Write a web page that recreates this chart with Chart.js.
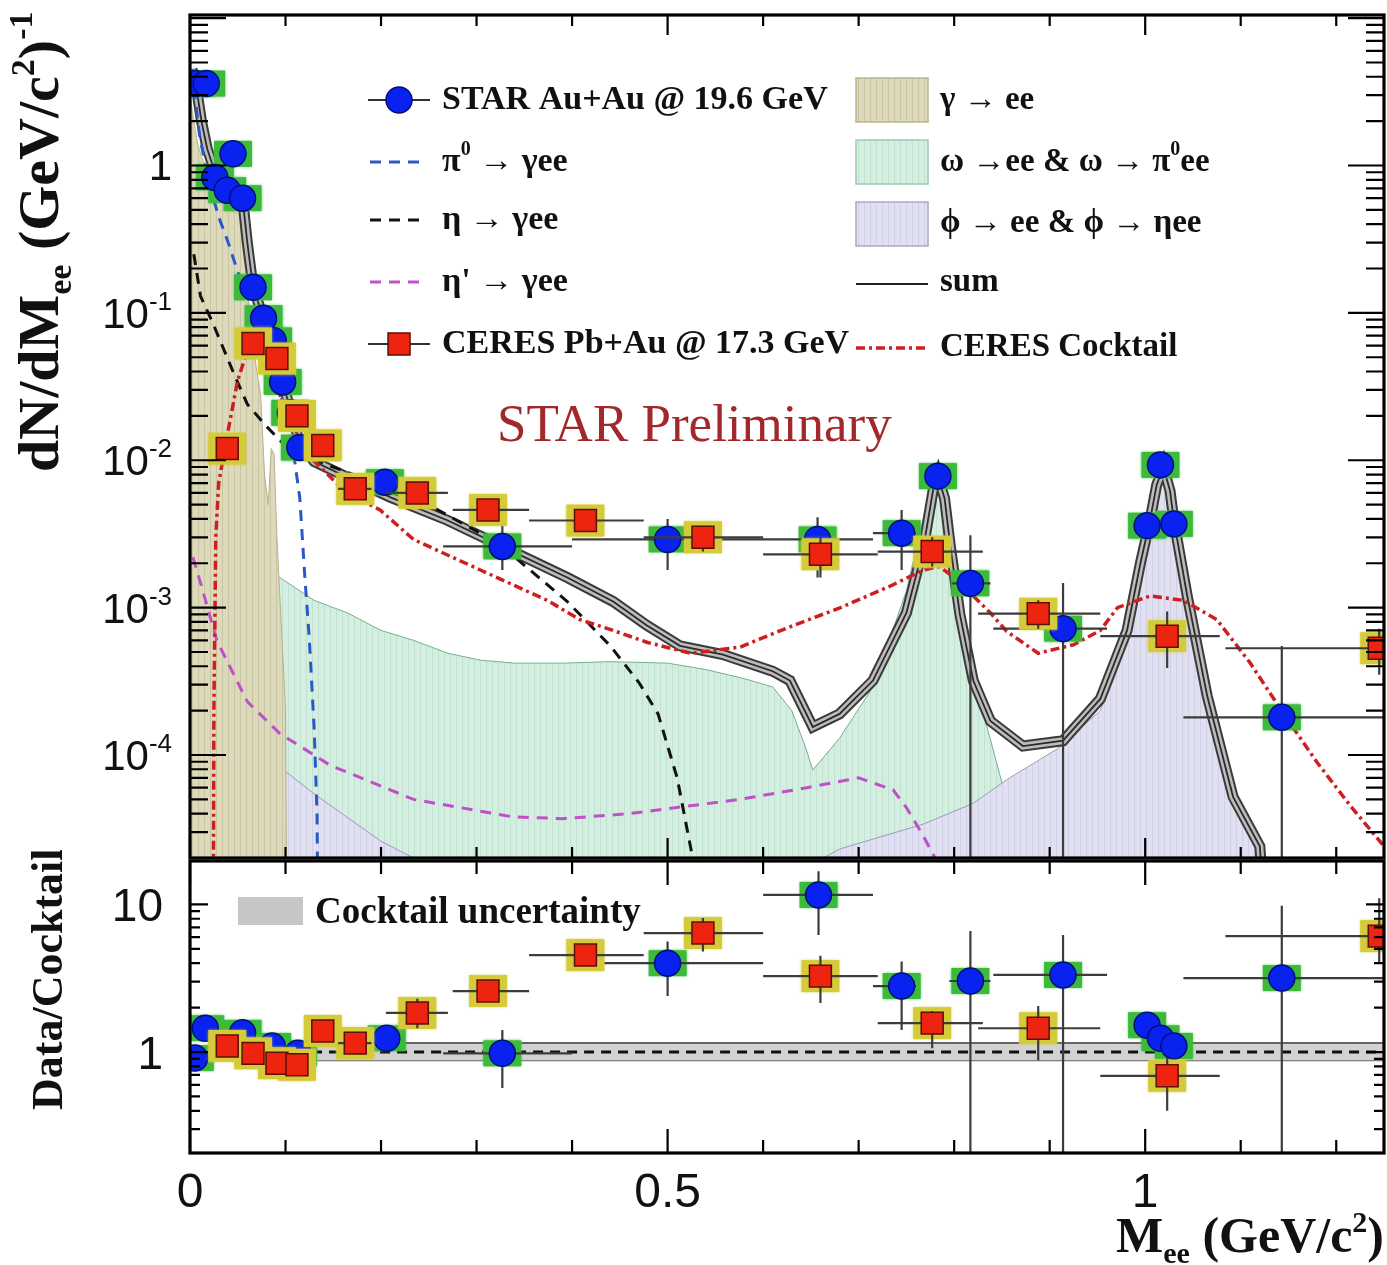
<!DOCTYPE html>
<html>
<head>
<meta charset="utf-8">
<title>Dielectron invariant mass spectrum</title>
<script src="https://cdn.jsdelivr.net/npm/chart.js@4.4.1/dist/chart.umd.min.js"></script>
<style>
  html, body { margin: 0; padding: 0; background: #fff; }
  #page { position: relative; width: 1387px; height: 1265px; overflow: hidden; background: #fff; }
  #page canvas { position: absolute; left: 0; }
  #spectrum { top: 0; }
  #ratio { top: 850px; }
</style>
</head>
<body>
<div id="page">
  <canvas id="spectrum" width="1387" height="870"></canvas>
  <canvas id="ratio" width="1387" height="415"></canvas>
</div>
<script>
/* ===== STAR Au+Au @ 19.6 GeV : dN/dMee ===== */
const starMass   = [0.006, 0.017, 0.026, 0.039, 0.045, 0.055, 0.066, 0.077, 0.087, 0.097, 0.105, 0.115, 0.204, 0.327, 0.500, 0.657, 0.745, 0.783, 0.817, 0.914, 1.002, 1.016, 1.030, 1.143];
const starYield  = [3.6, 3.6, 0.83, 0.68, 1.2, 0.60, 0.149, 0.092, 0.065, 0.034, 0.021, 0.0122, 0.0071, 0.0026, 0.0029, 0.0029, 0.0032, 0.0078, 0.00146, 0.00072, 0.0036, 0.0093, 0.0037, 0.00018];
const starBinLo  = [0.002, 0.012, 0.022, 0.035, 0.041, 0.050, 0.061, 0.072, 0.082, 0.092, 0.100, 0.110, 0.190, 0.265, 0.400, 0.600, 0.715, 0.775, 0.798, 0.841, 0.995, 1.009, 1.023, 1.040];
const starBinHi  = [0.010, 0.022, 0.030, 0.043, 0.049, 0.060, 0.071, 0.082, 0.092, 0.102, 0.110, 0.120, 0.220, 0.400, 0.600, 0.715, 0.760, 0.790, 0.838, 0.960, 1.009, 1.023, 1.037, 1.250];
const starErrLo  = [3.3, 3.3, 0.78, 0.64, 1.1, 0.56, 0.14, 0.086, 0.060, 0.031, 0.019, 0.0108, 0.0062, 0.0018, 0.0018, 0.0016, 0.0018, 0.0070, 1e-6, 1e-6, 0.0032, 0.0085, 0.0033, 1e-6];
const starErrHi  = [3.9, 3.9, 0.88, 0.72, 1.3, 0.64, 0.16, 0.098, 0.070, 0.037, 0.023, 0.0136, 0.0080, 0.0037, 0.0040, 0.0041, 0.0046, 0.0087, 0.0031, 0.00147, 0.0040, 0.0101, 0.0041, 0.00055];

/* ===== CERES Pb+Au @ 17.3 GeV ===== */
const ceresMass  = [0.039, 0.066, 0.091, 0.112, 0.139, 0.173, 0.238, 0.312, 0.414, 0.537, 0.660, 0.777, 0.888, 1.023, 1.245];
const ceresYield = [0.012, 0.062, 0.049, 0.020, 0.0126, 0.0064, 0.0060, 0.0046, 0.0039, 0.0030, 0.0023, 0.0024, 0.00091, 0.00064, 0.00053];
const ceresBinLo = [0.033, 0.059, 0.084, 0.105, 0.129, 0.155, 0.205, 0.275, 0.355, 0.475, 0.600, 0.720, 0.825, 0.953, 1.084];
const ceresBinHi = [0.045, 0.073, 0.098, 0.120, 0.149, 0.190, 0.270, 0.355, 0.475, 0.600, 0.720, 0.830, 0.953, 1.078, 1.400];
const ceresErrLo = [0.0105, 0.056, 0.044, 0.018, 0.0113, 0.0057, 0.0052, 0.0040, 0.0034, 0.0024, 0.0016, 0.0019, 0.00072, 0.00039, 0.00035];
const ceresErrHi = [0.0135, 0.068, 0.054, 0.022, 0.0139, 0.0071, 0.0068, 0.0053, 0.0044, 0.0036, 0.0030, 0.0030, 0.00112, 0.00094, 0.00072];

/* ===== cocktail components ===== */
const pi0Mass   = [0.002, 0.005, 0.01, 0.02, 0.03, 0.04, 0.05, 0.06, 0.07, 0.08, 0.09, 0.10, 0.11, 0.115, 0.12, 0.125, 0.13, 0.133, 0.135];
const pi0Yield  = [4.5, 3.0, 1.6, 0.75, 0.45, 0.30, 0.19, 0.13, 0.088, 0.058, 0.036, 0.021, 0.0095, 0.0055, 0.0017, 0.0006, 0.00015, 0.00004, 1e-6];

const etaMass   = [0.004, 0.011, 0.024, 0.045, 0.06, 0.08, 0.10, 0.14, 0.19, 0.24, 0.30, 0.34, 0.395, 0.44, 0.47, 0.49, 0.51, 0.525, 0.535, 0.545];
const etaYield  = [0.25, 0.13, 0.085, 0.04, 0.024, 0.017, 0.0125, 0.0095, 0.0072, 0.0054, 0.0033, 0.0022, 0.0011, 0.00055, 0.00031, 0.00019, 0.00007, 0.000022, 0.000008, 1e-6];

const etaPMass  = [0.003, 0.012, 0.028, 0.06, 0.094, 0.147, 0.234, 0.338, 0.39, 0.46, 0.576, 0.646, 0.70, 0.736, 0.75, 0.768, 0.78, 0.79];
const etaPYield = [0.0022, 0.0014, 0.0006, 0.00023, 0.00014, 0.000085, 0.00005, 0.000038, 0.000037, 0.00004, 0.00005, 0.00006, 0.00007, 0.000058, 0.000044, 0.000028, 0.00002, 1e-6];

const gammaMass  = [0.0, 0.004, 0.008, 0.012, 0.016, 0.02, 0.025, 0.03, 0.035, 0.04, 0.045, 0.05, 0.055, 0.058, 0.062, 0.066, 0.07, 0.074, 0.078, 0.082, 0.085, 0.088, 0.091, 0.094, 0.097, 0.10, 0.102];
const gammaYield = [3.0, 2.0, 1.4, 1.15, 1.0, 0.9, 0.8, 0.75, 0.7, 0.65, 0.62, 0.6, 0.55, 0.3, 0.1, 0.06, 0.04, 0.028, 0.008, 0.005, 0.012, 0.011, 0.003, 0.0012, 0.0005, 0.0002, 1e-6];

const omegaMass  = [0.002, 0.005, 0.01, 0.015, 0.024, 0.042, 0.06, 0.094, 0.13, 0.165, 0.20, 0.234, 0.27, 0.304, 0.34, 0.39, 0.44, 0.50, 0.54, 0.58, 0.61, 0.63, 0.645, 0.652, 0.68, 0.715, 0.75, 0.765, 0.775, 0.782, 0.79, 0.80, 0.81, 0.82, 0.835, 0.85, 0.875, 0.90, 0.91];
const omegaYield = [1.2, 0.5, 0.12, 0.03, 0.006, 0.0037, 0.0025, 0.0016, 0.00112, 0.00092, 0.0007, 0.0006, 0.00049, 0.00044, 0.00042, 0.00042, 0.00043, 0.00042, 0.00038, 0.00033, 0.00029, 0.0002, 0.00011, 0.000079, 0.00013, 0.00029, 0.0013, 0.0034, 0.006, 0.0076, 0.0054, 0.0021, 0.0008, 0.00034, 0.00015, 0.000065, 0.000035, 0.00002, 1e-6];

const phiMass  = [0.002, 0.008, 0.024, 0.06, 0.094, 0.129, 0.164, 0.20, 0.234, 0.24, 0.66, 0.663, 0.68, 0.768, 0.82, 0.855, 0.908, 0.953, 0.981, 0.995, 1.005, 1.012, 1.018, 1.03, 1.044, 1.065, 1.092, 1.124, 1.13];
const phiYield = [0.003, 0.001, 0.00029, 0.00014, 0.000083, 0.000055, 0.000038, 0.000026, 0.00002, 1e-6, 1e-6, 0.00002, 0.000023, 0.000034, 0.000047, 0.000068, 0.00011, 0.0002, 0.0006, 0.0019, 0.0037, 0.0068, 0.0085, 0.0037, 0.0011, 0.00023, 0.00005, 0.000021, 1e-6];

const sumMass  = [0.002, 0.006, 0.012, 0.018, 0.025, 0.032, 0.04, 0.048, 0.055, 0.06, 0.066, 0.075, 0.085, 0.095, 0.105, 0.115, 0.13, 0.164, 0.21, 0.27, 0.338, 0.395, 0.443, 0.478, 0.513, 0.558, 0.61, 0.628, 0.652, 0.68, 0.715, 0.75, 0.768, 0.778, 0.783, 0.79, 0.796, 0.806, 0.82, 0.838, 0.872, 0.914, 0.953, 0.981, 0.995, 1.005, 1.012, 1.019, 1.026, 1.03, 1.044, 1.065, 1.092, 1.12, 1.135];
const sumYield = [4.5, 3.6, 2.0, 1.3, 0.95, 0.8, 0.7, 0.65, 0.6, 0.3, 0.15, 0.1, 0.065, 0.038, 0.022, 0.013, 0.0098, 0.0077, 0.0056, 0.0039, 0.0024, 0.0016, 0.0011, 0.00076, 0.00055, 0.00048, 0.00037, 0.00032, 0.000155, 0.00019, 0.00032, 0.00092, 0.0026, 0.0063, 0.0078, 0.0055, 0.0026, 0.0009, 0.00032, 0.00017, 0.000115, 0.000125, 0.00024, 0.0007, 0.002, 0.0039, 0.0068, 0.009, 0.0062, 0.0039, 0.0012, 0.00025, 0.000052, 0.000024, 1e-6];

const ceresCockMass  = [0.024, 0.025, 0.027, 0.03, 0.04, 0.05, 0.06, 0.068, 0.08, 0.095, 0.11, 0.129, 0.164, 0.199, 0.234, 0.304, 0.374, 0.408, 0.443, 0.479, 0.524, 0.576, 0.628, 0.681, 0.733, 0.768, 0.785, 0.803, 0.82, 0.838, 0.855, 0.888, 0.925, 0.953, 0.971, 1.005, 1.04, 1.075, 1.11, 1.145, 1.18, 1.215, 1.25];
const ceresCockYield = [1e-6, 0.0002, 0.003, 0.007, 0.016, 0.035, 0.055, 0.06, 0.045, 0.027, 0.016, 0.01, 0.006, 0.0046, 0.0029, 0.0018, 0.00112, 0.00083, 0.0007, 0.00058, 0.00049, 0.00054, 0.00074, 0.001, 0.0014, 0.0018, 0.0019, 0.00154, 0.0012, 0.00092, 0.00069, 0.00049, 0.00056, 0.0007, 0.001, 0.0012, 0.00112, 0.00083, 0.00042, 0.00019, 0.000089, 0.000045, 0.000024];

/* ===== Data / Cocktail ===== */
const starRatioMass  = [0.005, 0.016, 0.055, 0.086, 0.113, 0.206, 0.327, 0.500, 0.658, 0.745, 0.817, 0.914, 1.002, 1.016, 1.030, 1.143];
const starRatio      = [0.91, 1.45, 1.35, 1.10, 0.98, 1.24, 0.98, 4.0, 11.6, 2.8, 3.03, 3.33, 1.52, 1.24, 1.10, 3.17];
const starRatioBinLo = [0.000, 0.011, 0.050, 0.081, 0.108, 0.190, 0.265, 0.400, 0.600, 0.715, 0.795, 0.841, 0.995, 1.009, 1.023, 1.040];
const starRatioBinHi = [0.010, 0.021, 0.060, 0.091, 0.118, 0.220, 0.400, 0.600, 0.715, 0.760, 0.838, 0.960, 1.009, 1.023, 1.037, 1.250];
const starRatioLo    = [0.86, 1.37, 1.28, 1.04, 0.92, 1.15, 0.57, 2.4, 6.2, 1.41, 0.1, 0.1, 1.35, 1.10, 0.97, 0.1];
const starRatioHi    = [0.96, 1.53, 1.42, 1.16, 1.04, 1.33, 1.41, 5.6, 16.8, 4.1, 6.6, 6.2, 1.75, 1.40, 1.24, 9.8];

const ceresRatioMass = [0.039, 0.066, 0.091, 0.112, 0.139, 0.173, 0.238, 0.312, 0.414, 0.537, 0.660, 0.777, 0.888, 1.023, 1.245];
const ceresRatio     = [1.10, 0.98, 0.84, 0.82, 1.39, 1.15, 1.84, 2.59, 4.54, 6.4, 3.27, 1.57, 1.45, 0.69, 6.1];
const ceresRatioLo   = [1.02, 0.91, 0.78, 0.76, 1.29, 1.07, 1.45, 2.3, 4.0, 4.8, 2.15, 1.06, 0.88, 0.40, 4.0];
const ceresRatioHi   = [1.18, 1.05, 0.90, 0.88, 1.49, 1.23, 2.3, 2.9, 5.1, 8.1, 4.5, 1.9, 2.05, 0.91, 11.0];

const bandMass = [0.11, 1.25];
const bandLo   = [0.88, 0.88];
const bandHi   = [1.15, 1.15];
const unityLine = [1, 1];

/* ===== helpers ===== */
const SERIF = '"Liberation Serif", "Times New Roman", serif';
const SANS  = '"Liberation Sans", Arial, Helvetica, sans-serif';

function pts(xs, ys) { return xs.map((m, i) => ({ x: m, y: ys[i] })); }

function stripes(bg, line, step) {
  const c = document.createElement('canvas');
  c.width = step; c.height = 4;
  const g = c.getContext('2d');
  g.fillStyle = bg; g.fillRect(0, 0, step, 4);
  g.fillStyle = line; g.fillRect(0, 0, 1, 4);
  return g.createPattern(c, 'repeat');
}

function runFont(r) { return (r.bold ? 'bold ' : '') + r.size + 'px ' + (r.sans ? SANS : SERIF); }

// draws a list of text pieces side by side (sub/superscripts via dy)
function richText(ctx, x, y, runs, align) {
  let w = 0;
  runs.forEach(r => { ctx.font = runFont(r); w += ctx.measureText(r.t).width; });
  let cx = align === 'right' ? x - w : align === 'center' ? x - w / 2 : x;
  runs.forEach(r => {
    ctx.font = runFont(r);
    ctx.fillText(r.t, cx, y + (r.dy || 0));
    cx += ctx.measureText(r.t).width;
  });
}

function curve(label, xs, ys, extra) {
  return Object.assign({ label, data: pts(xs, ys), pointRadius: 0, tension: 0, fill: false, borderWidth: 3 }, extra);
}

// frame + ROOT-style ticks on all four sides
function drawAxes(chart, c) {
  const { ctx, chartArea: a, scales: { x, y } } = chart;
  ctx.save();
  ctx.strokeStyle = '#000';
  ctx.lineWidth = 2.2;
  ctx.beginPath();
  for (let i = 0; i <= 12; i++) {
    const px = x.getPixelForValue(i / 10);
    const len = i % 5 === 0 ? c.xMajor : c.xMinor;
    ctx.moveTo(px, a.bottom); ctx.lineTo(px, a.bottom - len);
    ctx.moveTo(px, a.top); ctx.lineTo(px, a.top + len);
  }
  const d0 = Math.floor(Math.log10(y.min)), d1 = Math.ceil(Math.log10(y.max));
  for (let d = d0; d <= d1; d++) {
    for (let k = 1; k <= 9; k++) {
      const v = k * Math.pow(10, d);
      if (v < y.min || v > y.max) continue;
      const py = y.getPixelForValue(v);
      const len = k === 1 ? c.yMajor : c.yMinor;
      ctx.moveTo(a.left, py); ctx.lineTo(a.left + len, py);
      ctx.moveTo(a.right, py); ctx.lineTo(a.right - len, py);
    }
  }
  ctx.stroke();
  ctx.lineWidth = 3.2;
  ctx.strokeRect(a.left, a.top, a.right - a.left, a.bottom - a.top);
  ctx.restore();
}

// systematic boxes + statistical bars, drawn right under a marker dataset
function markerExtras(sets) {
  return {
    id: 'markerExtras',
    beforeDatasetDraw(chart, args) {
      const s = sets.find(e => e.index === args.index);
      if (!s) return;
      const { ctx, chartArea: a, scales: { x, y } } = chart;
      ctx.save();
      ctx.beginPath();
      ctx.rect(a.left, a.top, a.right - a.left, a.bottom - a.top);
      ctx.clip();
      ctx.fillStyle = s.boxColor;
      ctx.shadowColor = s.boxColor;
      ctx.shadowBlur = 3;
      s.xs.forEach((m, i) => {
        const px = x.getPixelForValue(m), py = y.getPixelForValue(s.ys[i]);
        ctx.fillRect(px - s.boxW / 2, py - s.boxH / 2, s.boxW, s.boxH);
      });
      ctx.shadowBlur = 0;
      ctx.strokeStyle = '#3c3c3c';
      ctx.lineWidth = 2.2;
      ctx.beginPath();
      s.xs.forEach((m, i) => {
        const py = y.getPixelForValue(s.ys[i]);
        ctx.moveTo(x.getPixelForValue(s.binLo[i]), py);
        ctx.lineTo(x.getPixelForValue(s.binHi[i]), py);
        const px = x.getPixelForValue(m);
        ctx.moveTo(px, y.getPixelForValue(s.errLo[i]));
        ctx.lineTo(px, y.getPixelForValue(s.errHi[i]));
      });
      ctx.stroke();
      ctx.restore();
    }
  };
}

const starStyle = {
  showLine: false, pointStyle: 'circle', pointRadius: 13,
  pointBackgroundColor: '#0a22f0', pointBorderColor: '#00107a', pointBorderWidth: 1.5
};
const ceresStyle = {
  showLine: false, pointStyle: 'rect', pointRadius: 15.5,
  pointBackgroundColor: '#ec2410', pointBorderColor: '#5c1006', pointBorderWidth: 1.5
};

const gammaFill = stripes('#ddd9bd', '#cbc6a2', 6);
const omegaFill = stripes('#d4efe1', '#c0e2cf', 6);
const phiFill   = stripes('#e0e0f0', '#d0d0e6', 6);

/* ===== upper panel: invariant mass spectrum ===== */
const specLabels = {
  id: 'specLabels',
  afterDatasetsDraw(chart) { drawAxes(chart, { xMajor: 20, xMinor: 11, yMajor: 36, yMinor: 18 }); },
  afterDraw(chart) {
    const { ctx, scales: { y } } = chart;
    ctx.save();
    ctx.fillStyle = '#111';
    ctx.textBaseline = 'alphabetic';
    // y tick labels
    [0, -1, -2, -3, -4].forEach(d => {
      const py = y.getPixelForValue(Math.pow(10, d)) + 15;
      const runs = d === 0 ? [{ t: '1', size: 42, sans: true }]
        : [{ t: '10', size: 42, sans: true }, { t: String(d), size: 26, sans: true, dy: -18 }];
      richText(ctx, 172, py, runs, 'right');
    });
    // y title
    ctx.save();
    ctx.translate(58, 472);
    ctx.rotate(-Math.PI / 2);
    richText(ctx, 0, 0, [
      { t: 'dN/dM', size: 58, bold: true },
      { t: 'ee', size: 34, bold: true, dy: 13 },
      { t: ' (GeV/c', size: 58, bold: true },
      { t: '2', size: 34, bold: true, dy: -24 },
      { t: ')', size: 58, bold: true },
      { t: '-1', size: 34, bold: true, dy: -26 }
    ], 'left');
    ctx.restore();

    // legend, left column
    ctx.textBaseline = 'middle';
    const lx = 442, lsize = 34;
    const leftRows = [
      { y: 100, runs: [{ t: 'STAR Au+Au @ 19.6 GeV', size: lsize, bold: true }] },
      { y: 162, runs: [{ t: 'π', size: lsize, bold: true }, { t: '0', size: 20, bold: true, dy: -12 }, { t: ' → γee', size: lsize, bold: true }] },
      { y: 220, runs: [{ t: 'η → γee', size: lsize, bold: true }] },
      { y: 282, runs: [{ t: "η' → γee", size: lsize, bold: true }] },
      { y: 344, runs: [{ t: 'CERES Pb+Au @ 17.3 GeV', size: lsize, bold: true }] }
    ];
    leftRows.forEach(r => richText(ctx, lx, r.y, r.runs, 'left'));

    ctx.lineWidth = 2.2;
    ctx.strokeStyle = '#333';
    [100, 344].forEach(yy => { ctx.beginPath(); ctx.moveTo(368, yy); ctx.lineTo(430, yy); ctx.stroke(); });
    ctx.fillStyle = '#0a22f0'; ctx.strokeStyle = '#00107a'; ctx.lineWidth = 1.5;
    ctx.beginPath(); ctx.arc(399, 100, 13, 0, Math.PI * 2); ctx.fill(); ctx.stroke();
    ctx.fillStyle = '#ec2410'; ctx.strokeStyle = '#5c1006';
    ctx.fillRect(388, 333, 22, 22); ctx.strokeRect(388, 333, 22, 22);
    [['#2a58c8', 162], ['#111', 220], ['#c050c8', 282]].forEach(([col, yy]) => {
      ctx.strokeStyle = col; ctx.lineWidth = 3; ctx.setLineDash([11, 8]);
      ctx.beginPath(); ctx.moveTo(370, yy); ctx.lineTo(424, yy); ctx.stroke();
    });
    ctx.setLineDash([]);

    // legend, right column
    const rx = 940, rsize = 33;
    ctx.fillStyle = '#111';
    const rightRows = [
      { y: 100, runs: [{ t: 'γ → ee', size: rsize, bold: true }] },
      { y: 162, runs: [{ t: 'ω →ee & ω → π', size: rsize, bold: true }, { t: '0', size: 20, bold: true, dy: -12 }, { t: 'ee', size: rsize, bold: true }] },
      { y: 223, runs: [{ t: 'ϕ → ee & ϕ → ηee', size: rsize, bold: true }] },
      { y: 282, runs: [{ t: 'sum', size: rsize, bold: true }] },
      { y: 347, runs: [{ t: 'CERES Cocktail', size: rsize, bold: true }] }
    ];
    rightRows.forEach(r => richText(ctx, rx, r.y, r.runs, 'left'));
    [[78, gammaFill, '#b9b48c'], [140, omegaFill, '#9ccbb2'], [202, phiFill, '#aaaac6']].forEach(([top, fillC, edge]) => {
      ctx.fillStyle = fillC; ctx.fillRect(856, top, 72, 44);
      ctx.strokeStyle = edge; ctx.lineWidth = 1.5; ctx.strokeRect(856, top, 72, 44);
    });
    ctx.strokeStyle = '#222'; ctx.lineWidth = 2;
    ctx.beginPath(); ctx.moveTo(856, 284); ctx.lineTo(928, 284); ctx.stroke();
    ctx.strokeStyle = '#d01e1e'; ctx.lineWidth = 3.5; ctx.setLineDash([9, 4, 3, 4]);
    ctx.beginPath(); ctx.moveTo(856, 348); ctx.lineTo(928, 348); ctx.stroke();
    ctx.setLineDash([]);

    // preliminary tag
    ctx.fillStyle = '#a3282b';
    ctx.font = '53px ' + SERIF;
    ctx.textBaseline = 'alphabetic';
    ctx.fillText('STAR Preliminary', 497, 441);
    ctx.restore();
  }
};

new Chart(document.getElementById('spectrum'), {
  type: 'line',
  data: {
    datasets: [
      Object.assign({ label: 'CERES Pb+Au @ 17.3 GeV', data: pts(ceresMass, ceresYield) }, ceresStyle),
      Object.assign({ label: 'STAR Au+Au @ 19.6 GeV', data: pts(starMass, starYield) }, starStyle),
      curve('CERES Cocktail', ceresCockMass, ceresCockYield, { borderColor: '#d01e1e', borderWidth: 3.5, borderDash: [9, 4, 3, 4] }),
      curve('π0 → γee', pi0Mass, pi0Yield, { borderColor: '#2a58c8', borderDash: [11, 8] }),
      curve('η → γee', etaMass, etaYield, { borderColor: '#111', borderDash: [11, 8] }),
      curve("η' → γee", etaPMass, etaPYield, { borderColor: '#c050c8', borderDash: [11, 8] }),
      curve('sum', sumMass, sumYield, { borderColor: '#2a2a2a', borderWidth: 1.8 }),
      curve('sum band', sumMass, sumYield, { borderColor: '#bcbcbc', borderWidth: 7 }),
      curve('sum band edge', sumMass, sumYield, { borderColor: '#3a3a3a', borderWidth: 11 }),
      curve('γ → ee', gammaMass, gammaYield, { borderColor: '#b5b08a', borderWidth: 1, fill: 'start', backgroundColor: gammaFill }),
      curve('ϕ → ee & ϕ → ηee', phiMass, phiYield, { borderColor: '#9a9ab8', borderWidth: 1, fill: 'start', backgroundColor: phiFill }),
      curve('ω → ee & ω → π0ee', omegaMass, omegaYield, { borderColor: '#74b08e', borderWidth: 1, fill: 'start', backgroundColor: omegaFill })
    ]
  },
  options: {
    responsive: false,
    animation: false,
    events: [],
    layout: { autoPadding: false, padding: { left: 190, right: 3, top: 15, bottom: 12 } },
    scales: {
      x: { type: 'linear', min: 0, max: 1.25, display: false },
      y: { type: 'logarithmic', min: 2e-5, max: 10.5, display: false }
    },
    plugins: { legend: { display: false }, tooltip: { enabled: false } }
  },
  plugins: [
    markerExtras([
      { index: 0, xs: ceresMass, ys: ceresYield, binLo: ceresBinLo, binHi: ceresBinHi, errLo: ceresErrLo, errHi: ceresErrHi, boxColor: '#d5cb3a', boxW: 38, boxH: 32 },
      { index: 1, xs: starMass, ys: starYield, binLo: starBinLo, binHi: starBinHi, errLo: starErrLo, errHi: starErrHi, boxColor: '#3cba3c', boxW: 38, boxH: 26 }
    ]),
    specLabels
  ]
});

/* ===== lower panel: data / cocktail ===== */
const ratioLabels = {
  id: 'ratioLabels',
  afterDatasetsDraw(chart) { drawAxes(chart, { xMajor: 24, xMinor: 13, yMajor: 18, yMinor: 10 }); },
  afterDraw(chart) {
    const { ctx, scales: { x, y } } = chart;
    ctx.save();
    ctx.fillStyle = '#111';
    ctx.textBaseline = 'alphabetic';
    [[10, '10'], [1, '1']].forEach(([v, t]) => {
      richText(ctx, 163, y.getPixelForValue(v) + 17, [{ t, size: 46, sans: true }], 'right');
    });
    [[0, '0'], [0.5, '0.5'], [1, '1']].forEach(([v, t]) => {
      richText(ctx, x.getPixelForValue(v), 357, [{ t, size: 48, sans: true }], 'center');
    });
    richText(ctx, 1384, 402, [
      { t: 'M', size: 50, bold: true },
      { t: 'ee', size: 30, bold: true, dy: 11 },
      { t: ' (GeV/c', size: 50, bold: true },
      { t: '2', size: 30, bold: true, dy: -20 },
      { t: ')', size: 50, bold: true }
    ], 'right');
    ctx.save();
    ctx.translate(62, 260);
    ctx.rotate(-Math.PI / 2);
    richText(ctx, 0, 0, [{ t: 'Data/Cocktail', size: 44, bold: true }], 'left');
    ctx.restore();
    // uncertainty legend
    ctx.fillStyle = '#c6c6c6';
    ctx.fillRect(238, 47, 65, 28);
    ctx.fillStyle = '#111';
    richText(ctx, 315, 73, [{ t: 'Cocktail uncertainty', size: 37, bold: true }], 'left');
    ctx.restore();
  }
};

new Chart(document.getElementById('ratio'), {
  type: 'line',
  data: {
    datasets: [
      Object.assign({ label: 'CERES / cocktail', data: pts(ceresRatioMass, ceresRatio) }, ceresStyle),
      Object.assign({ label: 'STAR / cocktail', data: pts(starRatioMass, starRatio) }, starStyle),
      curve('unity', bandMass, unityLine, { borderColor: '#111', borderWidth: 3, borderDash: [10, 7] }),
      curve('band high', bandMass, bandHi, { borderColor: '#666', borderWidth: 2, fill: '+1', backgroundColor: '#d2d2d2' }),
      curve('band low', bandMass, bandLo, { borderColor: '#666', borderWidth: 2 })
    ]
  },
  options: {
    responsive: false,
    animation: false,
    events: [],
    layout: { autoPadding: false, padding: { left: 190, right: 3, top: 11, bottom: 112 } },
    scales: {
      x: { type: 'linear', min: 0, max: 1.25, display: false },
      y: { type: 'logarithmic', min: 0.207, max: 19.7, display: false }
    },
    plugins: { legend: { display: false }, tooltip: { enabled: false } }
  },
  plugins: [
    markerExtras([
      { index: 0, xs: ceresRatioMass, ys: ceresRatio, binLo: ceresBinLo, binHi: ceresBinHi, errLo: ceresRatioLo, errHi: ceresRatioHi, boxColor: '#d5cb3a', boxW: 38, boxH: 32 },
      { index: 1, xs: starRatioMass, ys: starRatio, binLo: starRatioBinLo, binHi: starRatioBinHi, errLo: starRatioLo, errHi: starRatioHi, boxColor: '#3cba3c', boxW: 38, boxH: 26 }
    ]),
    ratioLabels
  ]
});
</script>
</body>
</html>
